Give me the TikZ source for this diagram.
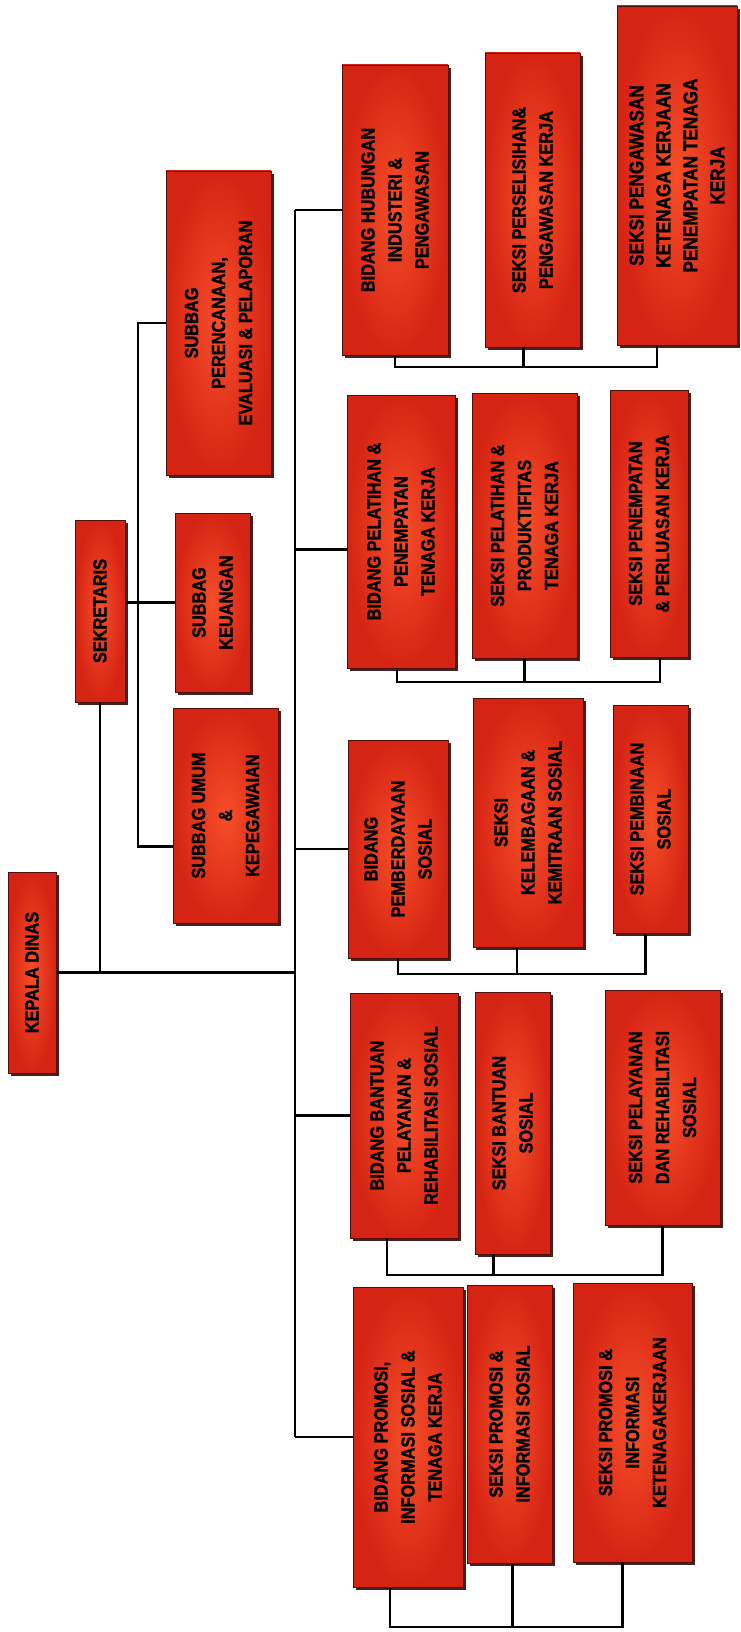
\documentclass[tikz,border=0pt]{standalone}
\usepackage{fontspec}
\newfontfamily\orgfont{Liberation Sans Bold}[FakeStretch=0.86, FakeBold=1.4]
\usetikzlibrary{shadows}

\definecolor{boxcore}{RGB}{246,78,40}
\definecolor{boxedge}{RGB}{214,36,20}
\definecolor{boxline}{RGB}{80,14,10}
\definecolor{boxshade}{RGB}{48,10,8}

% one unit box of the chart: #1 font size, #2 name, #3..#6 corners (x1,y1,x2,y2), #7 label
\newcommand\orgbox[7][19]{%
  \node[box, minimum width={(#5-#3)*1pt}, minimum height={(#6-#4)*1pt}]
    (#2) at ({(#3+#5)/2},{(#4+#6)/2}) {};
  \node[boxtext, font=\orgfont\fontsize{#1}{27}\selectfont] (#2-t) at (#2) {#7};}

% bracket joining a group of three boxes from below: #1 bar, #2 #3 #4 stem points
\newcommand\groupbar[4]{%
  \draw[link] (#2) -- (#2 |- #1) -- (#4 |- #1) -- (#4);
  \draw[link] (#3) -- (#3 |- #1);}

\begin{document}
\begin{tikzpicture}[x=1pt, y=-1pt,
  box/.style={rectangle, inner sep=0pt, draw=boxline, line width=0.8pt,
    inner color=boxcore, outer color=boxedge,
    drop shadow={shadow xshift=3pt, shadow yshift=-3pt, fill=boxshade, opacity=0.9}},
  boxtext/.style={rotate=90, align=center, text=black, inner sep=0pt},
  link/.style={draw=black, line width=2.3pt}]

\useasboundingbox (0,0) rectangle (740,1632);
\fill[white] (0,0) rectangle (740,1632);

% head and secretariat
\orgbox{kepala}{8}{872}{56}{1073}{KEPALA DINAS}
\orgbox{sekretaris}{75}{520}{125}{702}{SEKRETARIS}
\orgbox{subPeren}{166}{171}{271}{475}{SUBBAG\\PERENCANAAN,\\EVALUASI \& PELAPORAN}
\orgbox{subKeu}{175}{513}{250}{692}{SUBBAG\\KEUANGAN}
\orgbox{subUmum}{173}{708}{278}{923}{SUBBAG UMUM\\\&\\KEPEGAWAIAN}

% bidang and seksi
\orgbox{b1}{342}{65}{448}{355}{BIDANG HUBUNGAN\\INDUSTERI \&\\PENGAWASAN}
\orgbox{s1a}{485}{53}{580}{347}{SEKSI PERSELISIHAN\&\\PENGAWASAN KERJA}
\orgbox[20]{s1b}{617}{6}{737}{345}{SEKSI PENGAWASAN\\KETENAGA KERJAAN\\PENEMPATAN TENAGA\\KERJA}

\orgbox{b2}{347}{395}{455}{668}{BIDANG PELATIHAN \&\\PENEMPATAN\\TENAGA KERJA}
\orgbox{s2a}{472}{393}{577}{658}{SEKSI PELATIHAN \&\\PRODUKTIFITAS\\TENAGA KERJA}
\orgbox{s2b}{610}{390}{688}{657}{SEKSI PENEMPATAN\\\& PERLUASAN KERJA}

\orgbox{b3}{348}{740}{448}{958}{BIDANG\\PEMBERDAYAAN\\SOSIAL}
\orgbox{s3a}{473}{698}{583}{947}{SEKSI\\KELEMBAGAAN \&\\KEMITRAAN SOSIAL}
\orgbox{s3b}{613}{705}{688}{933}{SEKSI PEMBINAAN\\SOSIAL}

\orgbox{b4}{350}{993}{458}{1238}{BIDANG BANTUAN\\PELAYANAN \&\\REHABILITASI SOSIAL}
\orgbox{s4a}{475}{992}{550}{1254}{SEKSI BANTUAN\\SOSIAL}
\orgbox{s4b}{605}{990}{720}{1225}{SEKSI PELAYANAN\\DAN REHABILITASI\\SOSIAL}

\orgbox{b5}{353}{1287}{463}{1587}{BIDANG PROMOSI,\\INFORMASI SOSIAL \&\\TENAGA KERJA}
\orgbox{s5a}{467}{1285}{552}{1563}{SEKSI PROMOSI \&\\INFORMASI SOSIAL}
\orgbox{s5b}{573}{1283}{692}{1562}{SEKSI PROMOSI \&\\INFORMASI\\KETENAGAKERJAAN}

% main trunk to the bidang column
\coordinate (trunk) at (295,0);
\coordinate (b2in) at ([yshift=-18pt]b2.west);
\draw[link] (b1.west -| trunk) -- (b5.west -| trunk);
\foreach \b in {b1,b2in,b3,b4,b5} \draw[link] (\b -| trunk) -- (\b);
\draw[link] (kepala.east) -- (kepala.east -| trunk);
\draw[link] (sekretaris.south) -- (sekretaris.south |- kepala.east);

% secretariat branches
\coordinate (sv) at (138,0);
\coordinate (um) at ([yshift=-31pt]subUmum.west);
\draw[link] (sekretaris.east |- subKeu.west) -- (subKeu.west);
\draw[link] (subPeren.west) -- (subPeren.west -| sv) -- (sv |- um) -- (um);

% brackets under each group
\coordinate (g1) at (0,367);
\coordinate (g2) at (0,682);
\coordinate (g3) at (0,974);
\coordinate (g4) at (0,1275);
\coordinate (g5) at (0,1627);

\coordinate (b1s) at (b1.south);
\coordinate (s1as) at ([xshift=-9pt]s1a.south);
\coordinate (s1bs) at ([xshift=-20pt]s1b.south);
\coordinate (b2s) at ([xshift=-4pt]b2.south);
\coordinate (s2as) at (s2a.south);
\coordinate (s2bs) at ([xshift=11pt]s2b.south);
\coordinate (b3s) at (b3.south);
\coordinate (s3as) at ([xshift=-11pt]s3a.south);
\coordinate (s3bs) at ([xshift=-5pt]s3b.south);
\coordinate (b4s) at ([xshift=-17pt]b4.south);
\coordinate (s4as) at ([xshift=-19pt]s4a.south);
\coordinate (s4bs) at (s4b.south);
\coordinate (b5s) at ([xshift=-18pt]b5.south);
\coordinate (s5as) at ([xshift=3pt]s5a.south);
\coordinate (s5bs) at ([xshift=-10pt]s5b.south);

\groupbar{g1}{b1s}{s1as}{s1bs}
\groupbar{g2}{b2s}{s2as}{s2bs}
\groupbar{g3}{b3s}{s3as}{s3bs}
\groupbar{g4}{b4s}{s4as}{s4bs}
\groupbar{g5}{b5s}{s5as}{s5bs}

\end{tikzpicture}
\end{document}
